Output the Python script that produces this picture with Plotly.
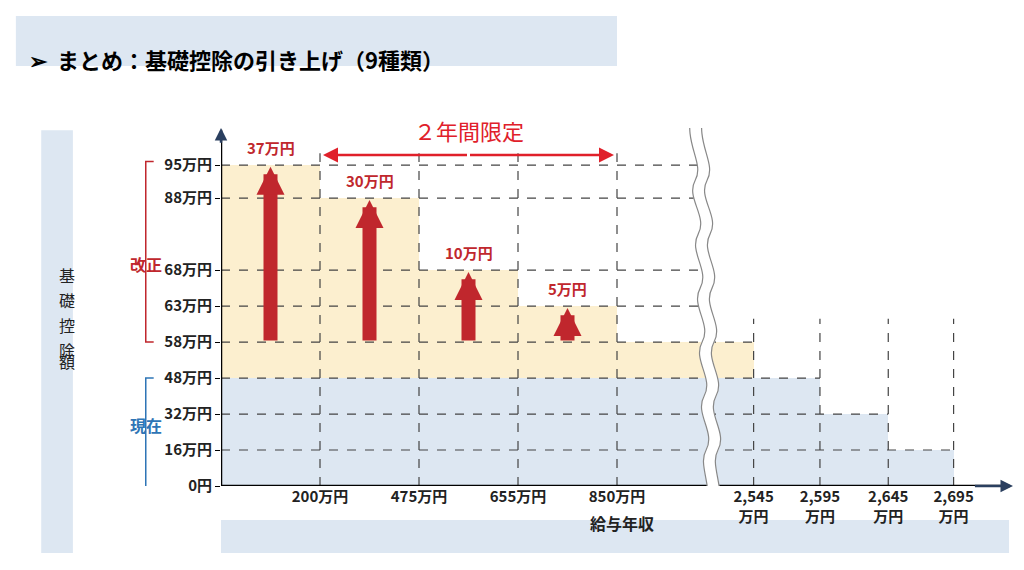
import plotly.graph_objects as go

# data
y_values = [0, 16, 32, 48, 58, 63, 68, 88, 95]          # 基礎控除額 (万円)
y_pos = [0, 1, 2, 3, 4, 5, 6, 8, 8.92]                  # axis position of each level
y_labels = ["0円", "16万円", "32万円", "48万円", "58万円", "63万円", "68万円", "88万円", "95万円"]
x_labels = ["200万円", "475万円", "655万円", "850万円", "2,545<br>万円", "2,595<br>万円", "2,645<br>万円", "2,695<br>万円"]
x_pos = [1, 2, 3, 4, 5.38, 6.05, 6.74, 7.40]
new_ded = [95, 88, 68, 63, 58]        # 改正後
cur_ded = [48, 48, 32, 16]            # 現在
increase = [37, 30, 10, 5]

P = dict(zip(y_values, y_pos))
edges_new = [0] + x_pos[:5]
edges_cur = [0] + x_pos[4:]
RED = "#c0272d"
FONT = "Noto Sans CJK JP"

fig = go.Figure()
fig.add_trace(go.Bar(
    x=[(edges_new[i] + edges_new[i+1]) / 2 for i in range(5)],
    width=[edges_new[i+1] - edges_new[i] for i in range(5)],
    y=[P[v] - P[48] for v in new_ded], base=[P[48]] * 5,
    marker=dict(color="#fcefcf", line_width=0), hoverinfo="skip"))
fig.add_trace(go.Bar(
    x=[(edges_cur[i] + edges_cur[i+1]) / 2 for i in range(4)],
    width=[edges_cur[i+1] - edges_cur[i] for i in range(4)],
    y=[P[v] for v in cur_ded], base=[0] * 4,
    marker=dict(color="#dde7f2", line_width=0), hoverinfo="skip"))

shapes = []
dash = dict(color="#444", width=1.2, dash="dash")
hl = {95: 4.85, 88: 4.85, 68: 4.85, 63: 4.85, 58: 5.38, 48: 6.05, 32: 6.74, 16: 7.40}
for v, xe in hl.items():
    shapes.append(dict(type="line", x0=0, x1=xe, y0=P[v], y1=P[v], line=dash, layer="above"))
for i, xv in enumerate(x_pos):
    top = 9.25 if i < 4 else 4.65
    shapes.append(dict(type="line", x0=xv, x1=xv, y0=0, y1=top, line=dash, layer="above"))
shapes.append(dict(type="line", x0=0, x1=7.95, y0=0, y1=0, line=dict(color="black", width=2.5)))
shapes.append(dict(type="line", x0=0, x1=0, y0=0, y1=9.9, line=dict(color="black", width=2.5)))

def wave(off):
    pts = [(4.82, 10.5), (4.72, 9.5), (4.95, 9), (4.85, 8.5), (4.75, 8), (4.98, 7.5), (4.88, 7), (4.78, 6.5),
           (5.0, 6), (4.9, 5.5), (4.8, 5), (5.02, 4.5), (4.92, 4), (4.82, 3.5), (5.04, 3), (4.94, 2.5),
           (4.84, 2), (5.06, 1.5), (4.96, 1), (4.86, 0.5), (5.08, 0), (4.98, -2.3)]
    s = f"M {pts[0][0]+off} {pts[0][1]}"
    for k in range(1, len(pts), 3):
        a, b, c = pts[k:k+3]
        s += f" C {a[0]+off} {a[1]}, {b[0]+off} {b[1]}, {c[0]+off} {c[1]}"
    return s

shapes.append(dict(type="path", path=wave(0), line=dict(color="white", width=12), layer="above"))
for off in (-0.06, 0.06):
    shapes.append(dict(type="path", path=wave(off), line=dict(color="#888", width=1.2), layer="above"))
# banners
shapes.append(dict(type="rect", xref="paper", yref="paper", x0=-0.259, x1=0.5, y0=1.313, y1=1.173, fillcolor="#dde7f2", line_width=0, layer="below"))
shapes.append(dict(type="rect", xref="paper", yref="paper", x0=-0.227, x1=-0.187, y0=0.994, y1=-0.187, fillcolor="#dde7f2", line_width=0, layer="below"))
shapes.append(dict(type="rect", xref="paper", yref="paper", x0=0.0, x1=0.995, y0=-0.095, y1=-0.187, fillcolor="#dde7f2", line_width=0, layer="below"))
for (y0, y1, col) in [(P[58], P[95] + 0.1, RED), (-0.3, P[48], "#2e75b6")]:
    shapes.append(dict(type="path", xref="paper", yref="y",
                       path=f"M -0.085 {y0} L -0.095 {y0} L -0.095 {y1} L -0.085 {y1}",
                       line=dict(color=col, width=1.5)))

ann = []
ann.append(dict(x=8.0, y=0, ax=7.6, ay=0, axref="x", ayref="y", xref="x", yref="y", showarrow=True, arrowhead=2, arrowsize=1, arrowwidth=2.5, text=""))
ann.append(dict(x=0, y=9.95, ax=0, ay=9.5, axref="x", ayref="y", xref="x", yref="y", showarrow=True, arrowhead=2, arrowsize=1, arrowwidth=2.5, text=""))
for i, inc in enumerate(increase):
    top = P[new_ded[i]]
    ann.append(dict(x=i + 0.5, y=top - 0.05, ax=i + 0.5, ay=P[58], axref="x", ayref="y", xref="x", yref="y",
                    showarrow=True, arrowhead=2, arrowsize=0.4, arrowwidth=14, arrowcolor=RED, text=""))
    ann.append(dict(x=i + 0.5, y=top + 0.15, xref="x", yref="y", text=f"<b>{inc}万円</b>", showarrow=False,
                    yanchor="bottom", font=dict(color=RED, size=15, family=FONT)))
for (xa, xb) in [(3.97, 2.5), (1.03, 2.5)]:
    ann.append(dict(x=xa, y=9.2, ax=xb, ay=9.2, axref="x", ayref="y", xref="x", yref="y", showarrow=True,
                    arrowhead=2, arrowsize=1.2, arrowwidth=2.5, arrowcolor="#e0202a", text=""))
ann.append(dict(x=2.5, y=9.4, xref="x", yref="y", text="２年間限定", showarrow=False, yanchor="bottom",
                font=dict(color="#e0202a", size=22, family=FONT)))
ann.append(dict(x=-0.245, y=1.243, xref="paper", yref="paper", xanchor="left", showarrow=False,
                text="<b>➢  まとめ：基礎控除の引き上げ（9種類）</b>", font=dict(size=22, family=FONT, color="black")))
for k, ch in enumerate("基礎控除額"):
    ann.append(dict(x=-0.207, y=0.59 - k * 0.07, xref="paper", yref="paper", showarrow=False,
                    text=ch, font=dict(size=16, family=FONT, color="#222")))
ann.append(dict(x=-0.118, y=(P[58] + P[95]) / 2 - 0.3, xref="paper", yref="y", showarrow=False,
                text="<b>改正</b>", font=dict(size=16, family=FONT, color=RED)))
ann.append(dict(x=-0.118, y=P[32] - 0.3, xref="paper", yref="y", showarrow=False,
                text="<b>現在</b>", font=dict(size=16, family=FONT, color="#2e75b6")))
ann.append(dict(x=4.05, y=-0.142, xref="x", yref="paper", showarrow=False,
                text="<b>給与年収</b>", font=dict(size=16, family=FONT, color="#222")))

fig.update_layout(
    width=1024, height=570, margin=dict(l=213, r=19, t=120, b=92),
    plot_bgcolor="white", paper_bgcolor="white", showlegend=False, bargap=0,
    shapes=shapes, annotations=ann,
    font=dict(family=FONT, color="#222"),
    xaxis=dict(range=[0, 8.0], tickvals=x_pos, ticktext=[f"<b>{t}</b>" for t in x_labels], automargin=False,
               showgrid=False, zeroline=False, ticks="", tickfont=dict(size=15), fixedrange=True),
    yaxis=dict(range=[0, 9.95], tickvals=y_pos, ticktext=[f"<b>{t}</b>" for t in y_labels], automargin=False,
               showgrid=False, zeroline=False, ticks="outside", ticklen=5, tickcolor="black",
               tickfont=dict(size=15), fixedrange=True),
)
fig.write_html("out.html")
